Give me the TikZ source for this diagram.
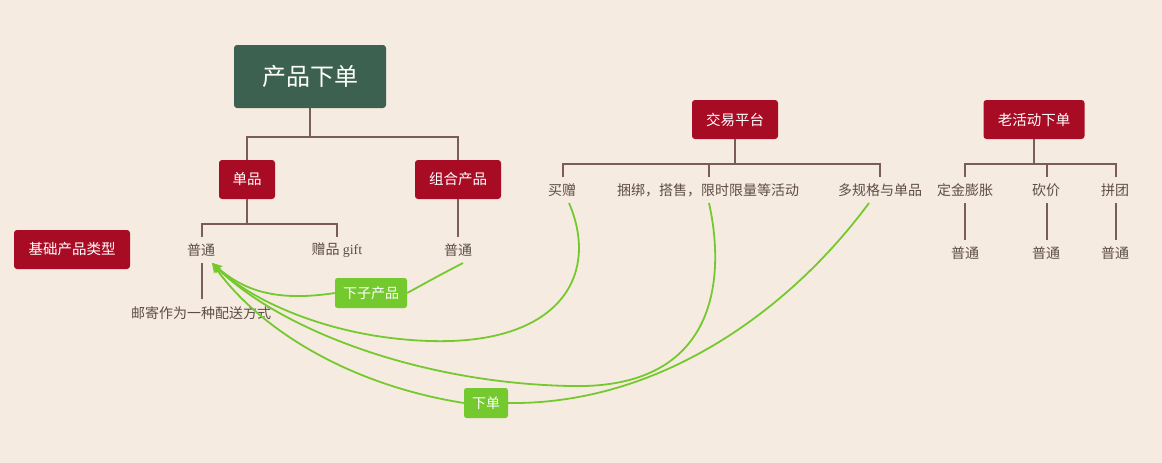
\documentclass[tikz,border=0pt]{standalone}
\usepackage{fontspec}
\setmainfont{Liberation Serif}
\newfontfamily\cjk{Noto Sans CJK SC}
\usetikzlibrary{arrows.meta}
\definecolor{bg}{HTML}{F6EBE0}
\definecolor{rootc}{HTML}{3D6150}
\definecolor{redc}{HTML}{A80C24}
\definecolor{greenc}{HTML}{74C92E}
\definecolor{linec}{HTML}{7A5E55}
\definecolor{txtc}{HTML}{5E4D47}
\tikzset{
  rootbox/.style={fill=rootc, text=white, rounded corners=3pt, minimum width=152pt, minimum height=63pt, font=\cjk\fontsize{24}{28}\selectfont, inner sep=0pt},
  redbox/.style={fill=redc, text=white, rounded corners=3pt, minimum height=39pt, font=\cjk\fontsize{14.5}{17}\selectfont, inner sep=0pt},
  plain/.style={text=txtc, font=\cjk\fontsize{14}{17}\selectfont, inner sep=0pt},
  greenlab/.style={fill=greenc, text=white, rounded corners=2.5pt, minimum height=30pt, font=\cjk\fontsize{14}{17}\selectfont, inner sep=0pt},
  tree/.style={draw=linec, line width=1.8pt},
  glink/.style={draw=greenc, line width=1.8pt},
  garrow/.style={glink, -{Stealth[length=10pt,width=9pt]}}
}
\begin{document}
\begin{tikzpicture}[x=1pt,y=-1pt]
\fill[bg] (0,0) rectangle (1162,463);
\useasboundingbox (0,0) rectangle (1162,463);
% nodes
\node[rootbox] (root) at (310,76.5) {产品下单};
\node[redbox, minimum width=56pt] (dan) at (247,179.5) {单品};
\node[redbox, minimum width=86pt] (zuhe) at (458,179.5) {组合产品};
\node[redbox, minimum width=116pt] (jichu) at (72,249.5) {基础产品类型};
\node[plain] (pt1) at (201,250) {普通};
\node[plain] (gift) at (337,250) {赠品 {\rmfamily gift}};
\node[plain] (pt2) at (458,250) {普通};
\node[plain] (youji) at (201,313) {邮寄作为一种配送方式};
\node[redbox, minimum width=86pt] (jiaoyi) at (735,119.5) {交易平台};
\node[redbox, minimum width=101pt] (lao) at (1034,119.5) {老活动下单};
\node[plain] (maizeng) at (562,190) {买赠};
\node[plain] (kunbang) at (708,190) {捆绑，搭售，限时限量等活动};
\node[plain] (duoguige) at (880,190) {多规格与单品};
\node[plain] (dingjin) at (965,190) {定金膨胀};
\node[plain] (kanjia) at (1046,190) {砍价};
\node[plain] (pintuan) at (1115,190) {拼团};
\node[plain] (pt3) at (965,253) {普通};
\node[plain] (pt4) at (1046,253) {普通};
\node[plain] (pt5) at (1115,253) {普通};
\node[greenlab, minimum width=72pt] (xzcp) at (371,293) {下子产品};
\node[greenlab, minimum width=44pt] (xd) at (486,403) {下单};
% tree connectors
\draw[tree] (root.south) -- (310,137) -| (dan.north);
\draw[tree] (310,137) -| (zuhe.north);
\draw[tree] (dan.south) -- (247,224) -| (202,237);
\draw[tree] (247,224) -| (337,237);
\draw[tree] (zuhe.south) -- (458,237);
\draw[tree] (202,263) -- (202,299);
\draw[tree] (jiaoyi.south) -- (735,164) -| (563,177);
\draw[tree] (735,164) -| (880,177);
\draw[tree] (709,164) -- (709,177);
\draw[tree] (lao.south) -- (1034,164) -| (965,177);
\draw[tree] (1034,164) -| (1116,177);
\draw[tree] (1047,164) -- (1047,177);
\draw[tree] (965,203) -- (965,240);
\draw[tree] (1047,203) -- (1047,240);
\draw[tree] (1116,203) -- (1116,240);
% green links
\coordinate (tip) at (212,263);
\draw[glink] (463,263) .. controls (440,275) .. (xzcp.east);
\draw[garrow] (xzcp.west) .. controls (270,303) and (240,287) .. (tip);
\draw[garrow] (569,203) .. controls (600,275) and (560,345) .. (430,341) .. controls (330,338) and (250,300) .. (tip);
\draw[garrow] (709,203) .. controls (725,275) and (720,390) .. (570,386) .. controls (420,383) and (280,330) .. (tip);
\draw[glink] (869,203) .. controls (790,310) and (660,405) .. (xd.east);
\draw[garrow] (xd.west) .. controls (350,385) and (260,330) .. (tip);
\end{tikzpicture}
\end{document}
